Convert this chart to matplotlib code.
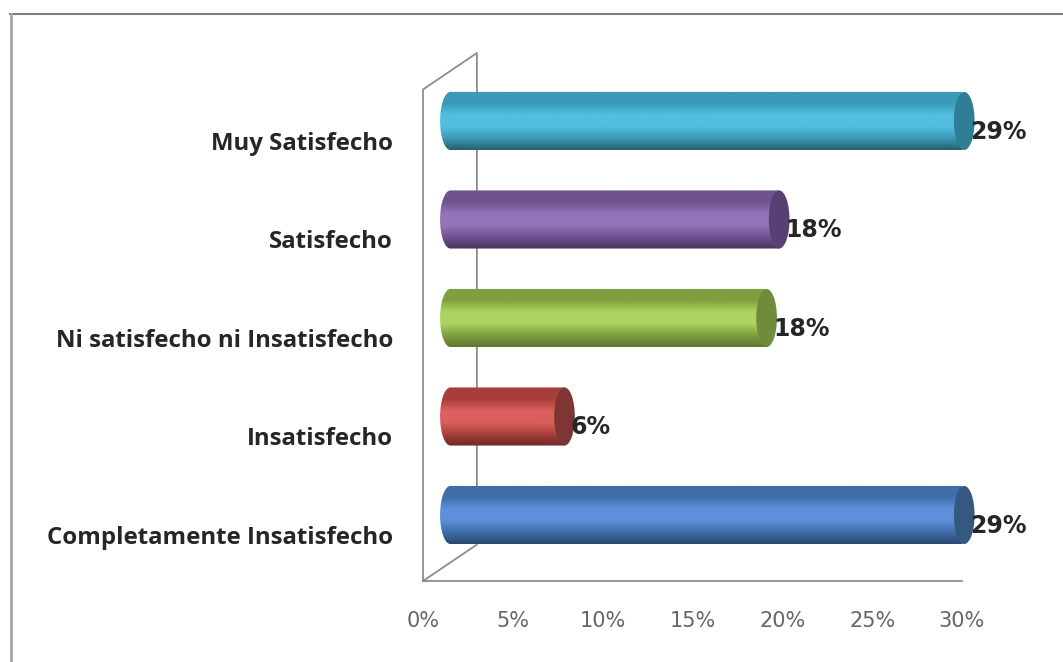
import matplotlib
matplotlib.use('Agg')
import matplotlib.pyplot as plt
from matplotlib.lines import Line2D
from matplotlib.patches import Ellipse, PathPatch
from matplotlib.path import Path
from matplotlib.colors import LinearSegmentedColormap
import numpy as np

categories = ['Completamente Insatisfecho', 'Insatisfecho', 'Ni satisfecho ni Insatisfecho',
              'Satisfecho', 'Muy Satisfecho']
# where each bar ends (the 3D view shifts them right)
bar_ends = [30.7, 8.45, 19.7, 20.4, 30.7]
value_labels = ['29%', '6%', '18%', '18%', '29%']
xtick_values = [0, 5, 10, 15, 20, 25, 30]

# edge, light, dark colours of each cylinder
bar_colors = [('#3f6ea8', '#5f8fdc', '#2c4a73'),
              ('#a83e3c', '#dc5f5c', '#6f2a29'),
              ('#7f9f42', '#add462', '#5f7a30'),
              ('#6f5290', '#9474b8', '#46335e'),
              ('#3a9ab8', '#52bee0', '#27606f')]
cap_colors = ['#35587f', '#7f3534', '#6f8c3c', '#584073', '#2f7d96']

bar_start = 0.95
half_height = 0.295
cap_w = 1.15

fig = plt.figure(figsize=(10.63, 6.62), dpi=100)
# only the top and left edges of the frame are inside the picture
fig.add_artist(Line2D([10 / 1063, 1], [1 - 14 / 662, 1 - 14 / 662], color='#7f7f7f', linewidth=1.5))
fig.add_artist(Line2D([11 / 1063, 11 / 1063], [0, 1 - 14 / 662], color='#a6a6a6', linewidth=2))

ax = fig.add_axes([423 / 1063, 1 - 581 / 662, 539 / 1063, 528 / 662])

for s in ['top', 'right', 'left']:
    ax.spines[s].set_visible(False)
ax.spines['bottom'].set_color('#8c8c8c')
ax.spines['bottom'].set_linewidth(1.3)

# side wall of the 3D box
wall_x = [0, 0, 3, 3, 0]
wall_y = [-0.67, 4.32, 4.69, -0.3, -0.67]
ax.plot(wall_x, wall_y, color='#8c8c8c', linewidth=1.3, clip_on=False, zorder=1)

ax.set_xticks(xtick_values)
ax.set_xticklabels([f'{v}%' for v in xtick_values], fontsize=15, color='#666666')
ax.tick_params(axis='x', length=0, pad=21.5)
# the labels sit a little below the middle of their bars
ax.set_yticks([i - 0.2 for i in range(len(categories))])
ax.set_yticklabels(categories, fontsize=17.3, fontweight='bold', family='Open Sans', color='#262626')
ax.tick_params(axis='y', length=0, pad=21.5)

for i, end in enumerate(bar_ends):
    edge, light, dark = bar_colors[i]
    cmap = LinearSegmentedColormap.from_list('cyl', [dark, edge, light, light, edge, edge])
    grad = np.linspace(0, 1, 100).reshape(-1, 1)
    im = ax.imshow(grad, cmap=cmap, origin='lower', aspect='auto', zorder=3,
                   extent=[bar_start, end, i - half_height, i + half_height])
    # body with rounded left end, the gradient is clipped to it
    k = half_height
    r = cap_w / 2
    x0 = bar_start + r
    x1 = bar_start
    xe = end - r
    verts = [(x0, i - k), (xe, i - k), (xe, i + k), (x0, i + k),
             (x0 - 0.55 * r, i + k), (x1, i + 0.55 * k), (x1, i),
             (x1, i - 0.55 * k), (x0 - 0.55 * r, i - k), (x0, i - k), (x0, i - k)]
    codes = [Path.MOVETO, Path.LINETO, Path.LINETO, Path.LINETO,
             Path.CURVE4, Path.CURVE4, Path.CURVE4,
             Path.CURVE4, Path.CURVE4, Path.CURVE4, Path.CLOSEPOLY]
    body = PathPatch(Path(verts, codes), transform=ax.transData, facecolor='none', edgecolor='none')
    ax.add_patch(body)
    im.set_clip_box(None)
    im.set_clip_path(body)
    cap = Ellipse((xe, i), cap_w, 2 * half_height, facecolor=cap_colors[i],
                  edgecolor='none', zorder=4, clip_on=False)
    ax.add_patch(cap)
    ax.text(end - 0.22, i - 0.11, value_labels[i], fontsize=17,
            fontweight='bold', color='#262626', va='center', ha='left', zorder=5, clip_on=False)

ax.set_xlim(0, 30)
ax.set_ylim(-0.67, 4.69)
fig.savefig('out.png', dpi=100)
